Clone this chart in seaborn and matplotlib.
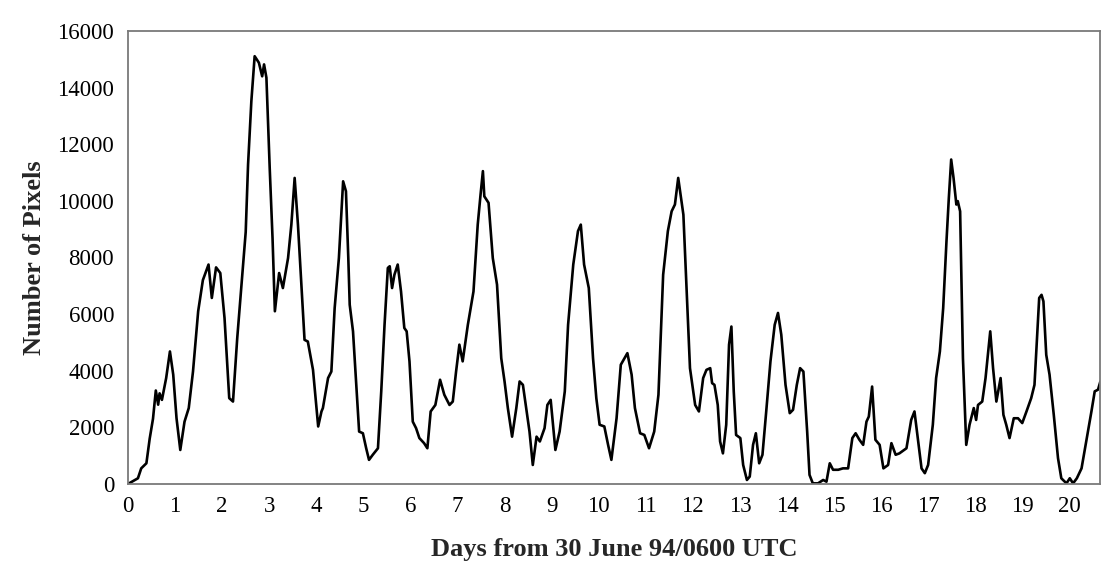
import matplotlib
matplotlib.use("Agg")
import matplotlib.pyplot as plt
import seaborn as sns
import pandas as pd
import numpy as np
from matplotlib.ticker import MultipleLocator

days = [0.00, 0.21, 0.28, 0.39, 0.46, 0.53, 0.59, 0.64, 0.67, 0.72, 0.81, 0.89, 0.96,
        1.03, 1.11, 1.20, 1.29, 1.38, 1.49, 1.59, 1.71, 1.78, 1.87, 1.96, 2.05, 2.15,
        2.23, 2.32, 2.41, 2.50, 2.55, 2.62, 2.69, 2.78, 2.85, 2.89, 2.94, 3.01, 3.07,
        3.12, 3.21, 3.29, 3.40, 3.47, 3.54, 3.61, 3.71, 3.75, 3.82, 3.93, 4.04, 4.11,
        4.14, 4.25, 4.32, 4.39, 4.48, 4.57, 4.63, 4.68, 4.71, 4.78, 4.85, 4.91, 4.99,
        5.06, 5.12, 5.20, 5.31, 5.38, 5.45, 5.52, 5.56, 5.61, 5.66, 5.73, 5.80, 5.87,
        5.92, 5.98, 6.05, 6.12, 6.19, 6.29, 6.36, 6.43, 6.53, 6.63, 6.72, 6.83, 6.90,
        6.97, 7.04, 7.11, 7.22, 7.34, 7.43, 7.49, 7.54, 7.57, 7.66, 7.75, 7.84, 7.93,
        8.00, 8.07, 8.16, 8.25, 8.32, 8.39, 8.46, 8.53, 8.60, 8.68, 8.75, 8.85, 8.91,
        8.98, 9.08, 9.17, 9.28, 9.35, 9.46, 9.56, 9.62, 9.69, 9.79, 9.88, 9.95, 10.02,
        10.12, 10.20, 10.27, 10.38, 10.47, 10.61, 10.70, 10.77, 10.88, 10.97, 11.07,
        11.18, 11.27, 11.37, 11.47, 11.55, 11.62, 11.69, 11.74, 11.80, 11.87, 11.94,
        12.05, 12.13, 12.22, 12.29, 12.37, 12.41, 12.46, 12.53, 12.58, 12.64, 12.71,
        12.77, 12.82, 12.87, 12.92, 13.01, 13.07, 13.15, 13.21, 13.28, 13.34, 13.41,
        13.48, 13.56, 13.65, 13.74, 13.81, 13.88, 13.97, 14.06, 14.13, 14.21, 14.28,
        14.35, 14.43, 14.48, 14.55, 14.66, 14.77, 14.84, 14.91, 14.98, 15.09, 15.19,
        15.30, 15.39, 15.46, 15.54, 15.62, 15.69, 15.74, 15.81, 15.88, 15.97, 16.05,
        16.15, 16.22, 16.31, 16.39, 16.54, 16.64, 16.71, 16.78, 16.86, 16.93, 17.00,
        17.10, 17.17, 17.25, 17.32, 17.39, 17.44, 17.49, 17.54, 17.60, 17.63, 17.68,
        17.74, 17.81, 17.88, 17.97, 18.02, 18.06, 18.15, 18.22, 18.32, 18.38, 18.45,
        18.54, 18.60, 18.66, 18.73, 18.82, 18.91, 19.00, 19.09, 19.19, 19.26, 19.36,
        19.41, 19.45, 19.51, 19.58, 19.67, 19.76, 19.83, 19.94, 20.01, 20.08, 20.16,
        20.26, 20.36, 20.47, 20.54, 20.61, 20.66]

pixels = [0, 200, 550, 730, 1600, 2300, 3300, 2800, 3200, 2970, 3740, 4680, 3860,
          2320, 1200, 2200, 2680, 3970, 6100, 7200, 7750, 6570, 7650, 7450, 5860, 3030,
          2910, 5150, 7030, 8900, 11280, 13520, 15110, 14880, 14400, 14820, 14350, 11160, 8690,
          6100, 7450, 6920, 7980, 9160, 10810, 9160, 6210, 5090, 5030, 4030, 2030, 2560,
          2680, 3740, 3970, 6210, 7980, 10690, 10340, 7980, 6330, 5390, 3500, 1850, 1790,
          1260, 850, 1030, 1260, 3270, 5620, 7630, 7690, 6920, 7390, 7750, 6800, 5510,
          5390, 4330, 2200, 1970, 1620, 1440, 1260, 2560, 2790, 3680, 3150, 2790, 2910,
          3970, 4920, 4330, 5620, 6800, 9160, 10220, 11050, 10160, 9930, 7980, 7040, 4440,
          3620, 2680, 1670, 2680, 3620, 3500, 2680, 1850, 670, 1670, 1500, 1970, 2790,
          2970, 1200, 1850, 3270, 5620, 7750, 8930, 9160, 7750, 6920, 4440, 3030, 2090,
          2030, 1380, 850, 2320, 4210, 4620, 3860, 2680, 1790, 1730, 1260,
          1850, 3150, 7390, 8930, 9630, 9870, 10810, 10220, 9510, 6800, 4090,
          2790, 2560, 3740, 4030, 4090, 3560, 3500, 2790, 1500, 1080, 2090,
          4920, 5560, 3270, 1730, 1620, 670, 140, 260, 1380, 1790, 730,
          1030, 2560, 4330, 5620, 6040, 5270, 3500, 2500, 2620, 3500, 4090,
          3970, 1850, 320, 20, 20, 140, 80, 730, 500, 500, 550,
          550, 1620, 1790, 1560, 1380, 2200, 2380, 3440, 1560, 1380, 550,
          670, 1440, 1030, 1080, 1260, 2260, 2560, 1620, 550, 380, 670,
          2090, 3740, 4680, 6210, 8570, 10100, 11460, 10810, 9870, 9990, 9630,
          4440, 1380, 2090, 2680, 2260, 2790, 2910, 3740, 5390, 4090, 2910,
          3740, 2440, 2090, 1620, 2320, 2320, 2150, 2560, 3030, 3500, 6570,
          6680, 6450, 4560, 3860, 2440, 910, 200, 20, 200, 20, 200,
          550, 1500, 2560, 3270, 3330, 3620]

x_tick_labels = [str(i) for i in range(0, 21)]
y_tick_values = list(range(0, 16001, 2000))

df = pd.DataFrame({"day": days, "pixels": pixels})

sns.set_style("white")
plt.rcParams["font.family"] = ["Liberation Serif", "DejaVu Serif"]

fig = plt.figure(figsize=(11.01, 5.70), dpi=100)
ax = fig.add_axes([0.1163, 0.151, 0.8827, 0.7946])

sns.lineplot(data=df, x="day", y="pixels", ax=ax, color="black", linewidth=1.9)

ax.set_xlim(0, 20.65)
ax.set_ylim(0, 16000)
ax.set_xticks(range(0, 21))
ax.set_xticklabels(x_tick_labels)
ax.xaxis.set_minor_locator(MultipleLocator(0.5))
ax.set_yticks(y_tick_values)
ax.set_yticklabels([str(v) for v in y_tick_values])

spine_color = "#7a7a7a"
for s in ax.spines.values():
    s.set_visible(True)
    s.set_color(spine_color)
    s.set_linewidth(1.3)

ax.tick_params(axis="both", which="both", direction="inout", length=8, width=1.1,
               color=spine_color, labelsize=16.5, labelcolor="black")
ax.tick_params(axis="x", which="minor", labelbottom=False)
ax.tick_params(axis="x", pad=5)
ax.tick_params(axis="y", pad=6)

ax.set_xlabel("Days from 30 June 94/0600 UTC", fontsize=19, fontweight="bold", labelpad=15)
ax.set_ylabel("Number of Pixels", fontsize=19, fontweight="bold", labelpad=8)

fig.savefig("out.png", dpi=100)
